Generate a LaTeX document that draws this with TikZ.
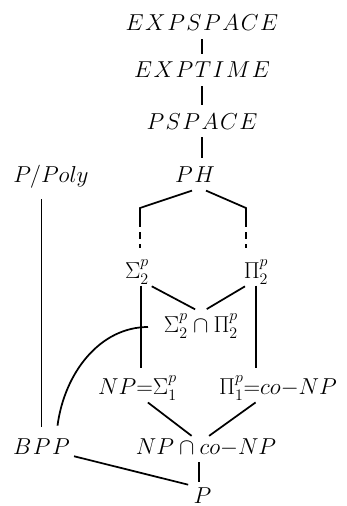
\documentclass[tikz,border=0pt]{standalone}
\usepackage{amsmath}
\usetikzlibrary{calc}
\newcommand{\ls}{\mkern1.2mu}

\begin{document}
\begin{tikzpicture}[
        x=0.75pt, y=-0.75pt,
        cls/.style={inner sep=1pt, anchor=base, font=\fontsize{17.28}{21}\selectfont},
        link/.style={line width=1.3pt, shorten <=5pt, shorten >=5pt},
        tie/.style={line width=1.3pt},
        hint/.style={line width=1.3pt, dash pattern=on 5pt off 4pt}
    ]
    \useasboundingbox (0,0) rectangle (346,506);

    % classes, placed at their baselines
    \node[cls] (expspace) at (202,31) {$E\ls X\ls P\ls S\ls P\ls A\ls C\ls E$};
    \node[cls] (exptime) at (202,78) {$E\ls X\ls P\ls T\ls I\ls M\ls E$};
    \node[cls] (pspace) at (202,129) {$P\ls S\ls P\ls A\ls C\ls E$};
    \node[cls] (ph) at (195,182) {$P\ls H$};
    \node[cls] (ppoly) at (51,182) {$P/Poly$};
    \node[cls] (sig2) at (137,278) {$\Sigma_2^p$};
    \node[cls] (pi2) at (256,278) {$\Pi_2^p$};
    \node[cls] (sigpi) at (201,332) {$\Sigma_2^p\cap\Pi_2^p$};
    \node[cls] (np) at (137.5,394) {$NP{=}\Sigma_1^p$};
    \node[cls] (conp) at (278,394) {$\Pi_1^p{=}co{-}NP$};
    \node[cls] (bpp) at (41.5,454) {$B\ls P\ls P$};
    \node[cls] (npconp) at (206,454) {$NP\cap co{-}NP$};
    \node[cls] (p) at (202.5,503) {$P$};

    % upper chain
    \draw[link] (expspace) -- (exptime);
    \draw[link] (exptime) -- (pspace);
    \draw[link] (pspace.south) -- (pspace.south |- ph.north);

    % PH down to the second level
    \coordinate (sl) at (140,208);
    \coordinate (sr) at (246,208);
    \draw[tie] ([shift={(-3,7)}]ph.south) -- (sl) -- ++(0,12) coordinate (sl2);
    \draw[tie] ([shift={(11,7)}]ph.south) -- (sr) -- ++(0,12) coordinate (sr2);
    \draw[hint, shorten >=8pt] (sl2) -- (sl |- sig2.north);
    \draw[hint, shorten >=8pt] (sr2) -- (sr |- pi2.north);

    \draw[link, shorten <=1pt] (sig2.south east) -- (sigpi.north);
    \draw[link, shorten <=1pt] ([xshift=3pt]pi2.south west) -- (sigpi.north);
    \draw[link, shorten <=0pt] ([xshift=3pt]sig2.south) -- ([xshift=3pt]sig2.south |- np.north);
    \draw[link, shorten <=0pt] (pi2.south) -- (pi2.south |- conp.north);

    % BPP side
    \coordinate (cb) at (148,327);
    \draw[link, shorten <=7.5pt, shorten >=7.5pt] (bpp.north |- ppoly.south) -- (bpp.north);
    \draw[tie] ([shift={(16,-11)}]bpp.north) .. controls +(7,-53) and +(-48,0) .. (cb);

    % bottom
    \draw[link, shorten <=1pt, shorten >=1pt] ([xshift=7pt]np.south) -- ([xshift=-10pt]npconp.north);
    \draw[link, shorten <=1pt, shorten >=1pt] ([xshift=-16pt]conp.south) -- ([xshift=1.5pt]npconp.north);
    \draw[link, shorten <=3.5pt, shorten >=3pt] ([xshift=-5pt]npconp.south) -- ([xshift=-5pt]npconp.south |- p.north);
    \draw[link, shorten <=2pt, shorten >=3pt] (bpp.south east) -- (p.north west);
\end{tikzpicture}
\end{document}
